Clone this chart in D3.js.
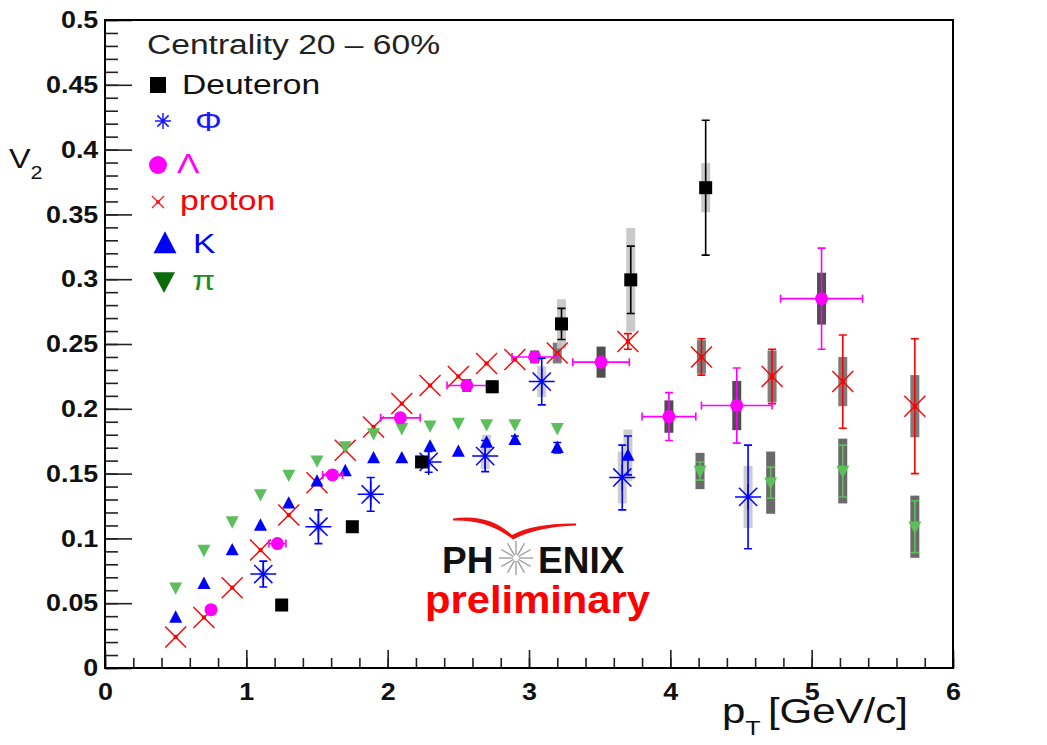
<!DOCTYPE html>
<html>
<head>
<meta charset="utf-8">
<script src="https://cdn.jsdelivr.net/npm/d3@7"></script>
<style>
  body { margin: 0; background: #fff; }
  svg text { font-family: "Liberation Sans", Arial, sans-serif; }
</style>
</head>
<body>
<div class="canvas"></div>
<script>
// ---- data ----
const piPt   = [0.5, 0.7, 0.9, 1.1, 1.3, 1.5, 1.7, 1.9, 2.1, 2.3, 2.5, 2.7, 2.9, 3.2, 4.21, 4.71, 5.22, 5.73];
const piV2   = [0.062, 0.091, 0.113, 0.134, 0.149, 0.160, 0.171, 0.181, 0.185, 0.187, 0.189, 0.188, 0.188, 0.185, 0.152, 0.143, 0.152, 0.109];
const piStat = [0, 0, 0, 0, 0, 0, 0, 0, 0, 0, 0, 0, 0, 0, 0.007, 0.012, 0.02, 0.02];
const piSys  = [0, 0, 0, 0, 0, 0, 0, 0, 0, 0, 0, 0, 0, 0, 0.014, 0.024, 0.025, 0.024];

const kPt   = [0.5, 0.7, 0.9, 1.1, 1.3, 1.5, 1.7, 1.9, 2.1, 2.3, 2.5, 2.7, 2.9, 3.2, 3.7];
const kV2   = [0.039, 0.065, 0.091, 0.110, 0.127, 0.144, 0.152, 0.162, 0.162, 0.171, 0.167, 0.174, 0.176, 0.170, 0.164];
const kStat = [0, 0, 0, 0, 0, 0, 0, 0, 0, 0, 0, 0, 0.003, 0.004, 0.015];
const kSys  = [0, 0, 0, 0, 0, 0, 0, 0, 0, 0, 0, 0.006, 0, 0, 0.02];

const pPt   = [0.5, 0.7, 0.9, 1.1, 1.3, 1.5, 1.7, 1.9, 2.1, 2.3, 2.5, 2.7, 2.9, 3.2, 3.7, 4.22, 4.72, 5.22, 5.73];
const pV2   = [0.024, 0.039, 0.062, 0.091, 0.118, 0.143, 0.168, 0.186, 0.204, 0.218, 0.225, 0.235, 0.238, 0.243, 0.252, 0.240, 0.225, 0.221, 0.202];
const pStat = [0, 0, 0, 0, 0, 0, 0, 0, 0, 0, 0, 0, 0, 0, 0.006, 0.014, 0.021, 0.036, 0.052];
const pSys  = [0, 0, 0, 0, 0, 0, 0, 0, 0, 0, 0, 0, 0, 0.008, 0, 0.013, 0.02, 0.019, 0.024];

const lamPt   = [0.75, 1.22, 1.61, 2.09, 2.56, 3.04, 3.51, 3.99, 4.47, 5.07];
const lamV2   = [0.045, 0.096, 0.149, 0.193, 0.218, 0.240, 0.236, 0.194, 0.2025, 0.285];
const lamXerr = [0, 0.06, 0.07, 0.14, 0.14, 0.16, 0.2, 0.19, 0.25, 0.29];
const lamStat = [0, 0, 0, 0, 0, 0, 0, 0.0185, 0.029, 0.039];
const lamSys  = [0, 0, 0, 0, 0.005, 0.005, 0.012, 0.0125, 0.019, 0.02];

const phiPt   = [1.12, 1.51, 1.88, 2.29, 2.69, 3.09, 3.66, 4.55];
const phiV2   = [0.0725, 0.109, 0.134, 0.159, 0.1635, 0.221, 0.147, 0.132];
const phiStat = [0.01, 0.013, 0.013, 0.008, 0.012, 0.018, 0.025, 0.04];
const phiSys  = [0.004, 0.004, 0.004, 0.004, 0.01, 0.012, 0.02, 0.024];

const dPt   = [1.25, 1.75, 2.24, 2.74, 3.23, 3.72, 4.25];
const dV2   = [0.0486, 0.109, 0.159, 0.217, 0.2655, 0.2995, 0.3706];
const dStat = [0.002, 0.002, 0.003, 0.004, 0.012, 0.026, 0.052];
const dSys  = [0, 0, 0, 0.005, 0.019, 0.04, 0.019];

const legendTitle = "Centrality 20 \u2013 60%";
const legendNames = ["Deuteron", "\u03A6", "\u039B", "proton", "K", "\u03C0"];
const xTicks = [0, 1, 2, 3, 4, 5, 6];
const yTicks = [0, 0.05, 0.1, 0.15, 0.2, 0.25, 0.3, 0.35, 0.4, 0.45, 0.5];

// ---- layout ----
const W = 1047, H = 745;
const x = d3.scaleLinear().domain([0, 6]).range([105, 953]);
const y = d3.scaleLinear().domain([0, 0.5]).range([668, 20]);

const svg = d3.select(".canvas").append("svg")
  .attr("width", W).attr("height", H);

const zip = (pt, v, st, sy, xe) => pt.map((p, i) => ({
  x: p, y: v[i], stat: st ? st[i] : 0, sys: sy ? sy[i] : 0, xerr: xe ? xe[i] : 0
}));

const series = [
  { name: "proton", data: zip(pPt, pV2, pStat, pSys), color: "#ff0000", marker: "cross", sysColor: "#6e6e6e" },
  { name: "pi", data: zip(piPt, piV2, piStat, piSys), color: "#5cbf5c", marker: "down", sysColor: "#5a5a5a" },
  { name: "K", data: zip(kPt, kV2, kStat, kSys), color: "#0000ff", marker: "up", sysColor: "#c8c8c8" },
  { name: "Lambda", data: zip(lamPt, lamV2, lamStat, lamSys, lamXerr), color: "#ff00ff", marker: "circle", sysColor: "#3c3c3c" },
  { name: "phi", data: zip(phiPt, phiV2, phiStat, phiSys), color: "#0000ff", marker: "star", sysColor: "#c8c8c8" },
  { name: "d", data: zip(dPt, dV2, dStat, dSys), color: "#000000", marker: "square", sysColor: "#c4c4c4" }
];

// markers
function drawMarker(g, type, color, s) {
  if (type === "square") {
    g.append("rect").attr("x", -s).attr("y", -s).attr("width", 2 * s).attr("height", 2 * s).attr("fill", color);
  } else if (type === "circle") {
    g.append("circle").attr("r", s).attr("fill", color);
  } else if (type === "up") {
    g.append("path").attr("d", `M0,${-s * 1.1}L${s},${s * 0.8}L${-s},${s * 0.8}Z`).attr("fill", color);
  } else if (type === "down") {
    g.append("path").attr("d", `M0,${s * 1.1}L${s},${-s * 0.8}L${-s},${-s * 0.8}Z`).attr("fill", color);
  } else if (type === "cross") {
    g.append("path").attr("d", `M${-s},${-s}L${s},${s}M${-s},${s}L${s},${-s}`)
      .attr("stroke", color).attr("stroke-width", 1.4).attr("fill", "none");
    g.append("rect").attr("x", -2).attr("y", -2).attr("width", 4).attr("height", 4).attr("fill", color);
  } else if (type === "star") {
    const d = s * 0.7;
    g.append("path").attr("d", `M${-s},0L${s},0M0,${-s}L0,${s}M${-d},${-d}L${d},${d}M${-d},${d}L${d},${-d}`)
      .attr("stroke", color).attr("stroke-width", 1.5).attr("fill", "none");
  }
}

const markerSize = { square: 6.5, circle: 6.5, up: 6.5, down: 6.5, cross: 10.5, star: 13 };

// systematic boxes
const sysG = svg.append("g");
series.forEach(s => {
  sysG.selectAll(null).data(s.data.filter(d => d.sys > 0)).enter()
    .append("rect")
    .attr("x", d => x(d.x) - 4.5).attr("width", 9)
    .attr("y", d => y(d.y + d.sys)).attr("height", d => y(d.y - d.sys) - y(d.y + d.sys))
    .attr("fill", s.sysColor).attr("opacity", 0.9);
});

// points with error bars
series.forEach(s => {
  const g = svg.append("g");
  const pts = g.selectAll("g").data(s.data).enter().append("g")
    .attr("transform", d => `translate(${x(d.x)},${y(d.y)})`);
  pts.filter(d => d.stat > 0).each(function (d) {
    const h = y(d.y - d.stat) - y(d.y);
    const e = d3.select(this);
    e.append("path").attr("d", `M0,${-h}L0,${h}M-4,${-h}L4,${-h}M-4,${h}L4,${h}`)
      .attr("stroke", s.color).attr("stroke-width", 1.6).attr("fill", "none");
  });
  pts.filter(d => d.xerr > 0).each(function (d) {
    const w = x(d.x + d.xerr) - x(d.x);
    d3.select(this).append("path").attr("d", `M${-w},0L${w},0M${-w},-4L${-w},4M${w},-4L${w},4`)
      .attr("stroke", s.color).attr("stroke-width", 1.6).attr("fill", "none");
  });
  pts.each(function () { drawMarker(d3.select(this), s.marker, s.color, markerSize[s.marker]); });
});

// ---- axes (ROOT style, ticks inside) ----
const fontTick = "bold 24px 'Liberation Sans', Arial, sans-serif";

const yMinor = svg.append("g").attr("transform", "translate(105,0)")
  .call(d3.axisLeft(y).tickValues(d3.range(0, 0.501, 0.01)).tickSize(-13).tickFormat(""));
const yMajor = svg.append("g").attr("transform", "translate(105,0)")
  .call(d3.axisLeft(y).tickValues(yTicks).tickSize(-27).tickPadding(6).tickFormat(d3.format("~g")));
const xMinor = svg.append("g").attr("transform", "translate(0,668)")
  .call(d3.axisBottom(x).tickValues(d3.range(0, 6.01, 0.2)).tickSize(-10).tickFormat(""));
const xMajor = svg.append("g").attr("transform", "translate(0,668)")
  .call(d3.axisBottom(x).tickValues(xTicks).tickSize(-18).tickPadding(15).tickFormat(d3.format("d")));

[yMinor, yMajor, xMinor, xMajor].forEach(a => {
  a.select(".domain").remove();
  a.selectAll("line").attr("stroke", "#222").attr("stroke-width", 1.6);
  a.selectAll("text").style("font", fontTick).attr("fill", "#111")
    .attr("transform", "scale(1.12,1)");
});

// frame
svg.append("rect").attr("x", 105).attr("y", 20).attr("width", 848).attr("height", 648)
  .attr("fill", "none").attr("stroke", "#000").attr("stroke-width", 2);

// axis titles
const xt = svg.append("text").attr("transform", "translate(722,723) scale(1.2,1)")
  .attr("font-size", 35).attr("fill", "#111");
xt.append("tspan").text("p");
xt.append("tspan").attr("font-size", 21).attr("dy", 12).text("T");
xt.append("tspan").attr("dy", -12).attr("dx", 6).text("[GeV/c]");

const yt = svg.append("text").attr("transform", "translate(9,168) scale(1.2,1)")
  .attr("font-size", 27).attr("fill", "#111");
yt.append("tspan").text("V");
yt.append("tspan").attr("font-size", 18).attr("dy", 11).text("2");

// ---- legend ----
svg.append("text").attr("transform", "translate(147,54) scale(1.2,1)")
  .attr("font-size", 28).attr("fill", "#222").text(legendTitle);

const legendRows = [
  { cy: 85, tx: 182, ty: 94, marker: "square", mcolor: "#000", tcolor: "#111", mx: 158, ms: 8 },
  { cy: 121, tx: 195, ty: 131, marker: "star", mcolor: "#1a1aff", tcolor: "#1a1aff", mx: 163, ms: 8 },
  { cy: 165, tx: 177, ty: 173, marker: "circle", mcolor: "#ff00ff", tcolor: "#ff00ff", mx: 158, ms: 9 },
  { cy: 202, tx: 180, ty: 210, marker: "cross", mcolor: "#ff2020", tcolor: "#ff0000", mx: 158, ms: 6 },
  { cy: 244, tx: 193, ty: 253, marker: "up", mcolor: "#0000ff", tcolor: "#0000ff", mx: 165, ms: 11.5 },
  { cy: 281, tx: 192, ty: 290, marker: "down", mcolor: "#0b6b0b", tcolor: "#1e8c1e", mx: 164, ms: 11 }
];
legendRows.forEach((r, i) => {
  const g = svg.append("g").attr("transform", `translate(${r.mx},${r.cy})`);
  drawMarker(g, r.marker, r.mcolor, r.ms);
  svg.append("text").attr("transform", `translate(${r.tx},${r.ty}) scale(1.2,1)`)
    .attr("font-size", 28).attr("fill", r.tcolor).text(legendNames[i]);
});

// ---- PHENIX preliminary logo ----
const logo = svg.append("g");
// red swoosh, thicker at the dip
logo.append("path")
  .attr("d", "M453,518.5 C476,515 496,520 512,535 C526,527 550,523 576,523.5 L576,525.5 C552,526 529,531 513,539.5 C496,526 477,520 453,520.5 Z")
  .attr("fill", "#ee1111");
logo.append("text").attr("x", 442).attr("y", 573).attr("font-size", 37).attr("font-weight", "bold")
  .attr("fill", "#111").text("PH");
logo.append("text").attr("x", 538).attr("y", 573).attr("font-size", 37).attr("font-weight", "bold")
  .attr("fill", "#111").text("ENIX");
const star = logo.append("g").attr("transform", "translate(516,558)");
d3.range(12).forEach(k => {
  const a = k * Math.PI / 6;
  star.append("line").attr("x1", 3 * Math.cos(a)).attr("y1", 3 * Math.sin(a))
    .attr("x2", 17 * Math.cos(a)).attr("y2", 17 * Math.sin(a))
    .attr("stroke", "#999").attr("stroke-width", 1.3);
});
logo.append("text").attr("x", 425).attr("y", 613).attr("font-size", 38).attr("font-weight", "bold")
  .attr("fill", "#ff0000").attr("textLength", 225).attr("lengthAdjust", "spacingAndGlyphs")
  .text("preliminary");
</script>
</body>
</html>
